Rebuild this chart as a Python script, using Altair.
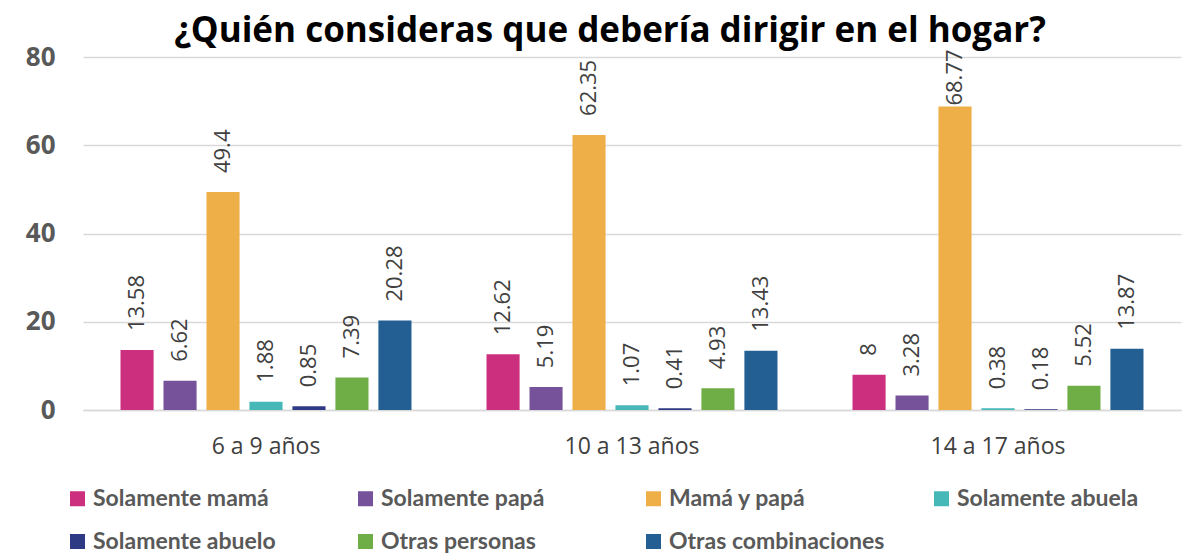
import altair as alt
import pandas as pd

groups = ["6 a 9 años", "10 a 13 años", "14 a 17 años"]
series = ["Solamente mamá", "Solamente papá", "Mamá y papá", "Solamente abuela",
          "Solamente abuelo", "Otras personas", "Otras combinaciones"]
colors = ["#CC2F7E", "#76529A", "#EEAE48", "#46B8B8", "#2F3A85", "#6FAD47", "#245F93"]
v_6_9 = [13.58, 6.62, 49.4, 1.88, 0.85, 7.39, 20.28]
v_10_13 = [12.62, 5.19, 62.35, 1.07, 0.41, 4.93, 13.43]
v_14_17 = [8, 3.28, 68.77, 0.38, 0.18, 5.52, 13.87]
y_ticks = [0, 20, 40, 60, 80]

rows = []
for g, vals in zip(groups, [v_6_9, v_10_13, v_14_17]):
    for s, v in zip(series, vals):
        rows.append({"grupo": g, "serie": s, "valor": v})
df = pd.DataFrame(rows)

x_enc = alt.X("grupo:N", sort=groups,
              scale=alt.Scale(paddingInner=0.205, paddingOuter=0.1025),
              axis=alt.Axis(title=None, labelAngle=0, labelFontSize=23, labelColor="#404040",
                            labelFont="Open Sans", labelPadding=25, ticks=False,
                            domain=True, domainColor="#D9D9D9", domainWidth=1.5))
xoff_enc = alt.XOffset("serie:N", sort=series,
                       scale=alt.Scale(paddingInner=0.23, paddingOuter=0))
y_scale = alt.Scale(domain=[0, 80])

bars = alt.Chart(df).mark_bar().encode(
    x=x_enc,
    xOffset=xoff_enc,
    y=alt.Y("valor:Q", scale=y_scale,
            axis=alt.Axis(values=y_ticks, title=None, labelFontSize=26, labelFontWeight="bold",
                          labelColor="#595959", labelFont="Open Sans", labelPadding=28,
                          ticks=False, domain=False, gridColor="#D9D9D9", gridWidth=1.5)),
    color=alt.Color("serie:N", sort=series,
                    scale=alt.Scale(domain=series, range=colors),
                    legend=alt.Legend(title=None, orient="none", legendX=-17, legendY=430,
                                      direction="horizontal", columns=4, gridAlign="all",
                                      columnPadding=45, rowPadding=19, symbolType="square",
                                      symbolSize=225, symbolStrokeWidth=0, labelFontSize=23,
                                      labelFontWeight="bold", labelColor="#595959",
                                      labelFont="Lato", labelOffset=4, labelLimit=400))
)

# labels sit just above each bar, kept inside the plot area near the top (as the original does)
labels = alt.Chart(df).transform_calculate(
    pos="min(datum.valor + 4.3, 69)"
).mark_text(angle=270, align="left", baseline="middle",
            fontSize=22, color="#404040", font="Open Sans").encode(
    x=x_enc,
    xOffset=xoff_enc,
    y=alt.Y("pos:Q", scale=y_scale),
    text=alt.Text("valor:Q", format=".2~f"),
)

chart = (bars + labels).properties(
    width=1098, height=353,
    title=alt.TitleParams("¿Quién consideras que debería dirigir en el hogar?",
                          fontSize=35, font="Open Sans", fontWeight="bold", color="#000000",
                          anchor="middle", dx=-22, offset=-5),
    autosize=alt.AutoSizeParams(type="none"),
    padding={"left": 75, "top": 49, "right": 12, "bottom": 144},
    background="white",
).configure_view(stroke=None)

chart.save("out.html", embed_options={"renderer": "svg", "actions": False})
